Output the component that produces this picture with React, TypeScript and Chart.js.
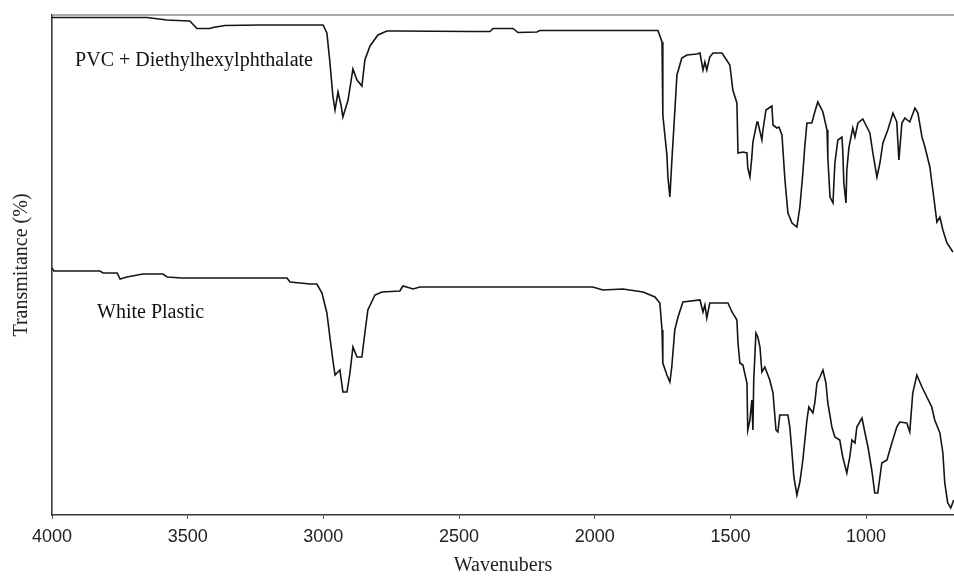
import React, { useEffect, useRef } from "react";
import { Chart, registerables } from "chart.js";

Chart.register(...registerables);

// Wavenumbers (cm-1) and transmittance (%)
const W_TOP = [4000,3650,3576,3539,3492,3466,3418,3407,3363,3234,3001,2987,2976,2965,2957,2946,2935,2928,2909,2891,2876,2858,2847,2828,2799,2766,2729,2460,2386,2375,2301,2283,2213,2202,1767,1752,1749,1734,1730,1723,1716,1705,1697,1679,1660,1624,1612,1601,1594,1587,1576,1564,1531,1502,1491,1476,1472,1454,1439,1436,1428,1421,1417,1402,1399,1384,1380,1369,1347,1343,1329,1321,1310,1299,1288,1273,1255,1244,1233,1226,1218,1200,1189,1178,1159,1144,1141,1133,1122,1115,1104,1089,1086,1082,1074,1071,1063,1049,1041,1030,1012,986,975,960,949,938,920,901,887,879,868,857,839,820,809,794,783,765,754,739,728,717,702,680];
const T_TOP = [99.5,99.5,99,98.9,98.8,97.3,97.3,97.5,97.9,98,98,96.4,90.6,83.8,81,84.6,82,79.6,83,89.2,87,85.8,91,93.8,96,96.8,96.8,96.7,96.7,97.3,97.3,96.5,96.6,96.9,96.9,94.6,80,72,67.4,63.6,70.6,80.6,88,91.4,92,92.2,92.4,89,90.6,89,91.6,92.4,92.4,90,85,82.4,72.4,72.6,72.4,69.4,67.6,71.6,74.6,78.6,78.6,75,77,81,81.8,78,77.4,77.6,76,67,60.4,58.4,57.6,61.6,68.4,73.6,78.4,78.4,80.6,82.6,80.6,77,71.6,63.6,62.4,70.4,75,75.6,73,66.4,62.4,69,73.6,77.4,75.6,78.4,79.2,76.4,72.4,67.6,70.4,74.4,77,80.4,78.6,71,78.4,79.4,78.6,81.4,80.4,75.6,73.6,69.6,65,58.6,59.6,57,54.4,52.6];

const W_BOT = [4000,3993,3823,3812,3760,3749,3724,3665,3591,3576,3521,3134,3123,3049,3024,3005,2987,2976,2965,2957,2939,2928,2913,2902,2891,2876,2858,2847,2836,2810,2784,2718,2707,2681,2670,2644,2007,1970,1896,1822,1778,1760,1752,1749,1734,1723,1716,1705,1693,1675,1612,1601,1594,1587,1576,1509,1494,1476,1472,1465,1454,1439,1436,1428,1421,1417,1414,1410,1406,1399,1391,1384,1373,1355,1343,1332,1325,1318,1288,1281,1273,1266,1255,1244,1233,1218,1211,1196,1189,1181,1170,1159,1148,1141,1126,1115,1097,1086,1071,1060,1052,1041,1034,1015,1004,993,979,968,957,942,923,905,887,876,850,839,828,813,794,776,758,747,728,717,710,699,688,677];
const T_BOT = [49.4,48.8,48.8,48.4,48.4,47.2,47.6,48.2,48.2,47.6,47.4,47.4,46.6,46.2,46.2,44.4,40.4,35.6,31,28,29,24.6,24.6,28.4,33.6,31.6,31.6,36.4,41,44,44.6,44.8,45.8,45.4,45.2,45.6,45.6,45,45.2,44.6,43.6,42.4,37,30.4,28,26.6,29.6,37,39.6,42.6,43,40.6,42,39.4,42.4,42.4,40.6,39,34.4,30.4,30,26.4,17,19,23,17,27,31.6,36.4,35.6,33.6,28.6,29.6,27,24.4,17,16.6,20,20,17.6,12.4,7.6,4,6.6,11,19,21.6,20.4,22.4,26.4,27.6,29,26.4,22.4,17.6,15.6,15,11.6,8.4,11.6,15,14.4,17.6,19.4,16.4,13.6,9,4.4,4.4,10.4,11,14.4,17.6,18.6,18.4,16.6,24.4,28,25.6,23.6,21.6,19,16.4,12.4,6.4,2.4,1.4,3];

const X_TICKS = [4000, 3500, 3000, 2500, 2000, 1500, 1000];
const X_MIN = 676;
const X_MAX = 4000;

const SERIES_NAMES = ["PVC + Diethylhexylphthalate", "White Plastic"];
// label anchor in data units: [wavenumber, transmittance]
const LABEL_W = [3915, 3834];
const LABEL_T = [89.8, 39.4];

function toPoints(w: number[], t: number[]) {
  const n = Math.min(w.length, t.length);
  const out: { x: number; y: number }[] = [];
  for (let i = 0; i < n; i++) out.push({ x: w[i], y: t[i] });
  return out;
}

const overlayPlugin = {
  id: "overlay",
  afterDraw(chart: any) {
    const { ctx, chartArea, scales } = chart;
    ctx.save();
    ctx.strokeStyle = "#8c8c8c";
    ctx.lineWidth = 1.5;
    ctx.beginPath();
    ctx.moveTo(chartArea.left, chartArea.top);
    ctx.lineTo(chartArea.right, chartArea.top);
    ctx.stroke();
    ctx.fillStyle = "#111";
    ctx.font = '20px "Liberation Serif", "Times New Roman", serif';
    ctx.textAlign = "left";
    ctx.textBaseline = "alphabetic";
    SERIES_NAMES.forEach((name, i) => {
      const x = scales.x.getPixelForValue(LABEL_W[i]);
      const y = scales.y.getPixelForValue(LABEL_T[i]);
      ctx.fillText(name, x, y);
    });
    ctx.restore();
  },
};

export default function App() {
  const ref = useRef<HTMLCanvasElement | null>(null);

  useEffect(() => {
    if (!ref.current) return;
    const chart = new Chart(ref.current, {
      type: "line",
      data: {
        datasets: [
          {
            label: SERIES_NAMES[0],
            data: toPoints(W_TOP, T_TOP),
            borderColor: "#141414",
            borderWidth: 1.6,
            pointRadius: 0,
            tension: 0,
            fill: false,
          },
          {
            label: SERIES_NAMES[1],
            data: toPoints(W_BOT, T_BOT),
            borderColor: "#141414",
            borderWidth: 1.6,
            pointRadius: 0,
            tension: 0,
            fill: false,
          },
        ],
      },
      options: {
        responsive: false,
        animation: false,
        parsing: false as any,
        layout: { padding: { top: 15, right: 0, left: 0, bottom: 0 } },
        plugins: {
          legend: { display: false },
          tooltip: { enabled: false },
        },
        scales: {
          x: {
            type: "linear",
            reverse: true,
            min: X_MIN,
            max: X_MAX,
            afterBuildTicks: (scale: any) => {
              scale.ticks = X_TICKS.map((v) => ({ value: v }));
            },
            afterFit: (scale: any) => {
              scale.height = 61;
            },
            grid: {
              drawOnChartArea: false,
              drawTicks: true,
              tickLength: 4,
              color: "#555",
            },
            border: { display: true, color: "#3a3a3a", width: 1.6 },
            ticks: {
              autoSkip: false,
              maxRotation: 0,
              padding: 7,
              color: "#222",
              font: { family: '"Liberation Sans", Arial, sans-serif', size: 18 },
              callback: (v: any) => String(v),
            },
            title: {
              display: true,
              text: "Wavenubers",
              color: "#222",
              padding: 0,
              font: { family: '"Liberation Serif", "Times New Roman", serif', size: 20, lineHeight: 1 },
            },
          },
          y: {
            type: "linear",
            min: 0,
            max: 100,
            afterFit: (scale: any) => {
              scale.width = 52;
            },
            grid: { display: false },
            border: { display: true, color: "#3a3a3a", width: 1.6 },
            ticks: { display: false },
            title: {
              display: true,
              text: "Transmitance (%)",
              color: "#222",
              padding: { top: 12, bottom: 0 },
              font: { family: '"Liberation Serif", "Times New Roman", serif', size: 20, lineHeight: 1 },
            },
          },
        },
      },
      plugins: [overlayPlugin],
    });
    return () => chart.destroy();
  }, []);

  return (
    <div style={{ position: "fixed", left: 0, top: 0, width: 954, height: 576, background: "#fff" }}>
      <canvas ref={ref} width={954} height={576} style={{ display: "block" }} />
    </div>
  );
}
